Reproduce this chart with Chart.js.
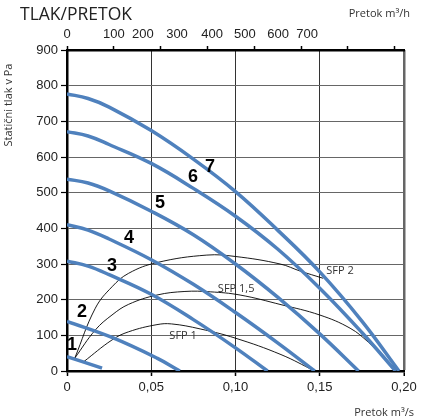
<!DOCTYPE html>
<html>
<head>
<meta charset="utf-8">
<script src="https://cdn.jsdelivr.net/npm/chart.js@4"></script>
<style>
  html, body { margin: 0; padding: 0; background: #fff; }
</style>
</head>
<body>
<canvas id="chart-tlak" width="431" height="419"></canvas>
<script>
// Krivulje ventilatorja: [pretok m3/s, statični tlak Pa]
const KRIVULJA_1 = [[0, 40], [0.01, 25], [0.0208, 8]];
const KRIVULJA_2 = [[0, 139], [0.0267, 94], [0.0534, 36], [0.067, 0]];
const KRIVULJA_3 = [[0, 308], [0.0125, 294], [0.025, 270], [0.05, 215], [0.075, 144], [0.1, 65], [0.119, 0]];
const KRIVULJA_4 = [[0, 410], [0.0125, 395], [0.025, 370], [0.05, 312], [0.075, 243], [0.1, 164], [0.125, 79], [0.147, 0]];
const KRIVULJA_5 = [[0, 538], [0.0125, 527], [0.025, 505], [0.05, 448], [0.075, 382], [0.1, 300], [0.125, 207], [0.15, 104], [0.173, 0]];
const KRIVULJA_6 = [[0, 671], [0.0125, 659], [0.025, 635], [0.05, 582], [0.075, 512], [0.1, 434], [0.125, 342], [0.15, 232], [0.175, 108], [0.195, 0]];
const KRIVULJA_7 = [[0, 777], [0.0125, 764], [0.025, 740], [0.05, 674], [0.075, 594], [0.1, 503], [0.125, 395], [0.15, 278], [0.175, 140], [0.197, 0]];

// SFP krivulje
const SFP_1 = [[0.0099, 26], [0.0267, 87], [0.0366, 110], [0.0534, 130], [0.062, 132], [0.079, 118], [0.1, 92], [0.127, 46], [0.147, 0]];
const SFP_15 = [[0.0046, 36], [0.0168, 115], [0.0267, 157], [0.0366, 187], [0.0534, 213], [0.07, 223], [0.085, 222], [0.1027, 213], [0.127, 186], [0.15, 157], [0.168, 120], [0.179, 80], [0.196, 2]];
const SFP_2 = [[0.0046, 36], [0.0168, 176], [0.0267, 236], [0.0366, 274], [0.0534, 304], [0.083, 325], [0.1, 321], [0.1265, 300], [0.1385, 280], [0.152, 260]];

const KRIVULJE = [KRIVULJA_1, KRIVULJA_2, KRIVULJA_3, KRIVULJA_4, KRIVULJA_5, KRIVULJA_6, KRIVULJA_7];
const SFP_KRIVULJE = [SFP_1, SFP_15, SFP_2];

// oznake krivulj (v enotah grafa)
const OZNAKE_KRIVULJ = ['1', '2', '3', '4', '5', '6', '7'];
const OZNAKE_KRIVULJ_POZ = [[0.003, 73], [0.0089, 165], [0.0267, 294], [0.0368, 373], [0.0552, 471], [0.0748, 544], [0.0849, 572]];
const OZNAKE_SFP = ['SFP 1', 'SFP 1,5', 'SFP 2'];
const OZNAKE_SFP_POZ = [[0.0689, 98], [0.1004, 230], [0.162, 280]];

// zgornja os m3/h
const ZGORNJE_OZNAKE = ['0', '100', '200', '300', '400', '500', '600', '700'];
const ZGORNJE_OZNAKE_POZ = [0, 100, 162, 235, 310, 380, 451, 513];

const MODRA = '#4f81bd';
const PISAVA = '"Liberation Sans", Arial, sans-serif';
const PISAVA_NASLOV = '"Open Sans", "Noto Sans", sans-serif';

const tocke = (arr) => arr.map(([x, y]) => ({ x, y }));

const datasets = [];
KRIVULJE.forEach((k, i) => {
    datasets.push({
        label: 'Krivulja ' + (i + 1),
        data: tocke(k),
        borderColor: MODRA,
        borderWidth: 3.5,
        pointRadius: 0,
        tension: 0.4,
        fill: false
    });
});
SFP_KRIVULJE.forEach((k, i) => {
    datasets.push({
        label: OZNAKE_SFP[i],
        data: tocke(k),
        borderColor: '#000',
        borderWidth: 0.9,
        pointRadius: 0,
        tension: 0.4,
        fill: false
    });
});

const napisi = {
    id: 'napisi',
    afterDatasetsDraw(chart) {
        const { ctx, scales } = chart;
        ctx.save();
        ctx.textAlign = 'center';
        ctx.textBaseline = 'middle';
        ctx.fillStyle = '#000';
        ctx.font = 'bold 18px ' + PISAVA;
        OZNAKE_KRIVULJ.forEach((t, i) => {
            const [x, y] = OZNAKE_KRIVULJ_POZ[i];
            ctx.fillText(t, scales.x.getPixelForValue(x), scales.y.getPixelForValue(y));
        });
        ctx.fillStyle = '#333';
        ctx.font = '11px ' + PISAVA_NASLOV;
        OZNAKE_SFP.forEach((t, i) => {
            const [x, y] = OZNAKE_SFP_POZ[i];
            ctx.fillText(t, scales.x.getPixelForValue(x), scales.y.getPixelForValue(y));
        });
        ctx.restore();
    },
    afterDraw(chart) {
        const { ctx } = chart;
        ctx.save();
        ctx.fillStyle = '#222';
        ctx.textBaseline = 'alphabetic';
        ctx.textAlign = 'left';
        ctx.font = '17.5px ' + PISAVA_NASLOV;
        ctx.fillText('TLAK/PRETOK', 20, 20);
        ctx.textAlign = 'right';
        ctx.font = '11px ' + PISAVA_NASLOV;
        ctx.fillStyle = '#333';
        ctx.fillText('Pretok m³/h', 410, 17);
        ctx.fillText('Pretok m³/s', 414, 416);
        ctx.translate(9, 105);
        ctx.rotate(-Math.PI / 2);
        ctx.textAlign = 'center';
        ctx.textBaseline = 'middle';
        ctx.fillText('Statični tlak v Pa', 0, 0);
        ctx.restore();
    }
};

new Chart(document.getElementById('chart-tlak'), {
    type: 'line',
    data: { datasets },
    plugins: [napisi],
    options: {
        responsive: false,
        animation: false,
        layout: { padding: { left: 0, right: 27, top: 0, bottom: 0 } },
        plugins: {
            legend: { display: false },
            tooltip: { enabled: false }
        },
        scales: {
            x: {
                type: 'linear',
                position: 'bottom',
                min: 0,
                max: 0.2,
                grid: {
                    color: (c) => c.index === 4 ? '#666' : '#333',
                    lineWidth: (c) => c.index === 4 ? 2.5 : 1,
                    tickColor: '#000',
                    tickLength: 5,
                    tickWidth: 1.5
                },
                border: { color: '#000', width: 2.5 },
                ticks: {
                    stepSize: 0.05,
                    padding: 4,
                    color: '#222',
                    font: { family: PISAVA, size: 13 },
                    callback: (v) => v === 0 ? '0' : v.toFixed(2).replace('.', ',')
                },
                afterFit: (s) => { s.height = 48; }
            },
            x2: {
                type: 'linear',
                position: 'top',
                min: 0,
                max: 720,
                weight: 0,
                grid: {
                    drawOnChartArea: false,
                    tickColor: '#000',
                    tickLength: 4,
                    tickWidth: 1.5
                },
                border: { color: '#000', width: 2.5 },
                ticks: { display: false, stepSize: 100, includeBounds: false },
                afterFit: (s) => { s.height = 4; }
            },
            x3: {
                type: 'linear',
                position: 'top',
                min: 0,
                max: 720,
                weight: 1,
                grid: { display: false, drawTicks: false },
                border: { display: false },
                afterBuildTicks: (s) => { s.ticks = ZGORNJE_OZNAKE_POZ.map(v => ({ value: v })); },
                ticks: {
                    autoSkip: false,
                    maxRotation: 0,
                    padding: 4,
                    color: '#222',
                    font: { family: PISAVA, size: 13 },
                    callback: (v, i) => ZGORNJE_OZNAKE[i]
                },
                afterFit: (s) => { s.height = 46; }
            },
            y: {
                type: 'linear',
                min: 0,
                max: 900,
                grid: {
                    color: '#666',
                    lineWidth: 1,
                    tickColor: '#000',
                    tickLength: 6,
                    tickWidth: 1.2
                },
                border: { color: '#000', width: 2.5 },
                ticks: {
                    stepSize: 100,
                    padding: 3,
                    color: '#222',
                    font: { family: PISAVA, size: 13 }
                },
                afterFit: (s) => { s.width = 67; }
            }
        }
    }
});
</script>
</body>
</html>
